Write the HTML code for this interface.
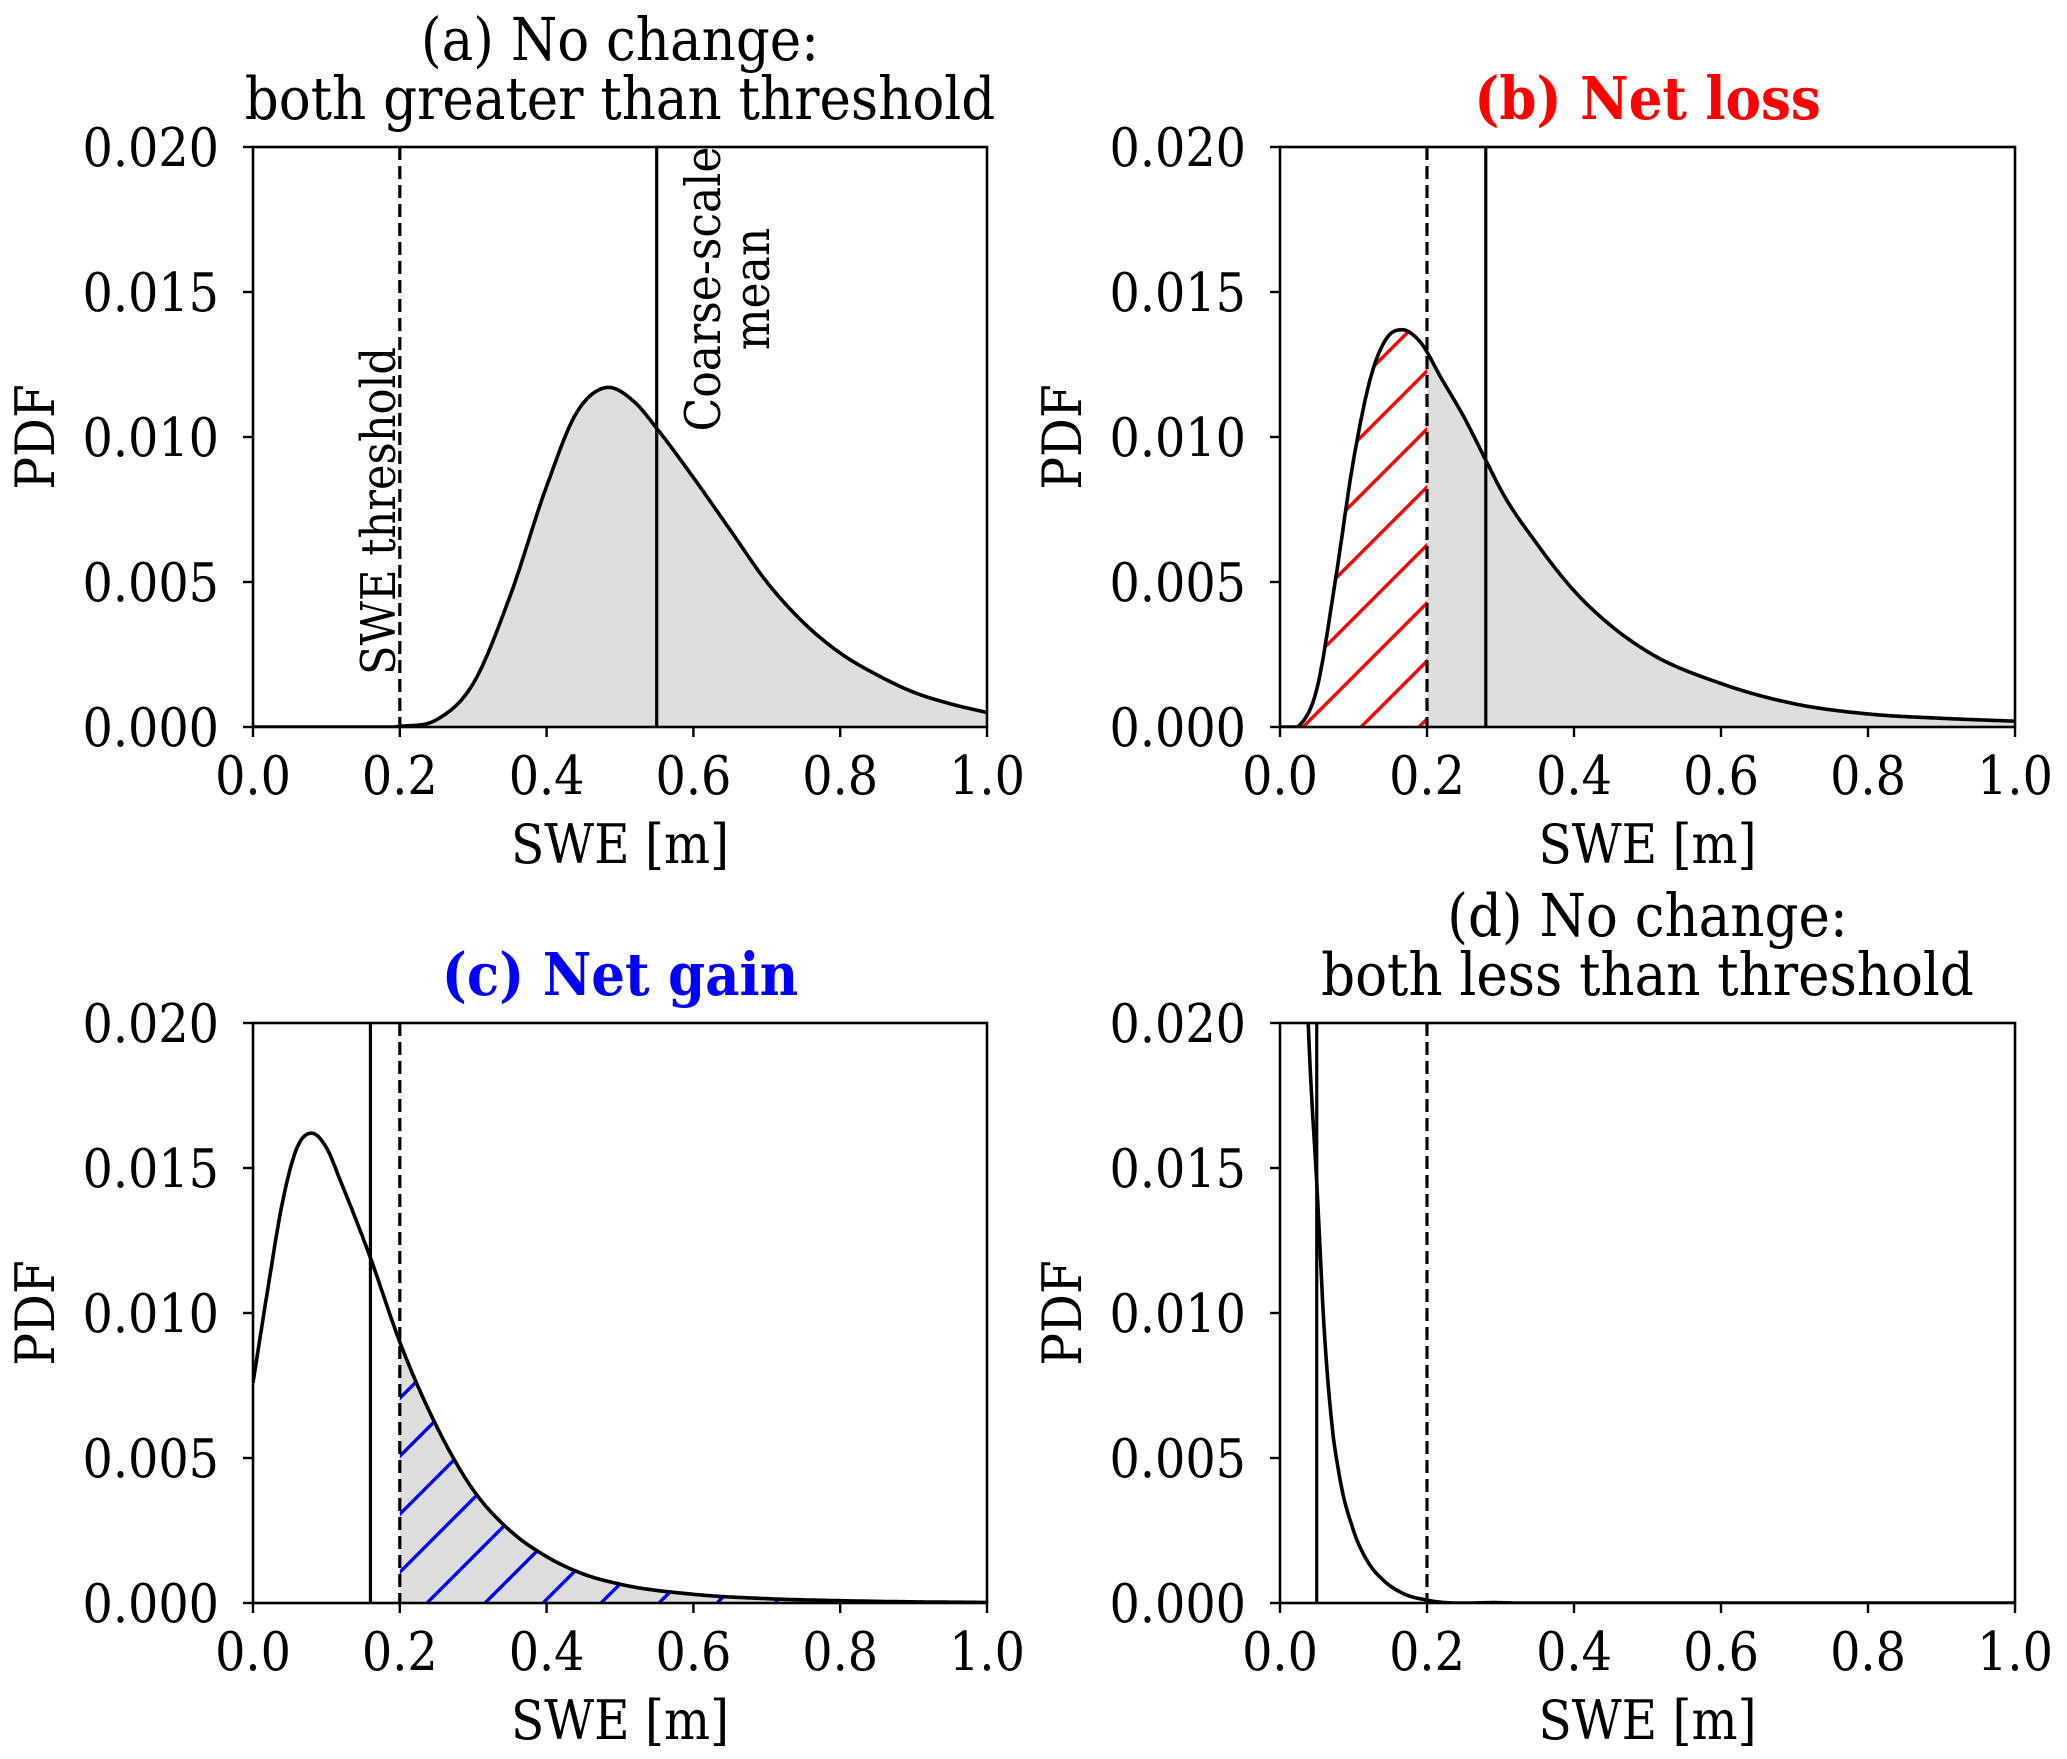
<!DOCTYPE html>
<html><head><meta charset="utf-8"><style>
html,body{margin:0;padding:0;background:#fff;}
svg{display:block;font-family:"DejaVu Serif Condensed","DejaVu Serif","Liberation Serif",serif;}
</style></head><body>
<svg id="fig" width="2067" height="1759" viewBox="0 0 2067 1759" xmlns="http://www.w3.org/2000/svg">
<defs>
<pattern id="hatchRed" patternUnits="userSpaceOnUse" width="58" height="58">
<path d="M-5,63 L63,-5 M-5,5 L5,-5 M53,63 L63,53" stroke="#ff0000" stroke-width="3.4" fill="none"/>
</pattern>
<pattern id="hatchBlue" patternUnits="userSpaceOnUse" width="58" height="58">
<path d="M-5,63 L63,-5 M-5,5 L5,-5 M53,63 L63,53" stroke="#0000ff" stroke-width="3.4" fill="none"/>
</pattern>
</defs>
</svg>
<script>
// ---- data (PDF values in units of 0.001) ----
const xTicks = [0.0, 0.2, 0.4, 0.6, 0.8, 1.0];
const xTickLabels = ["0.0","0.2","0.4","0.6","0.8","1.0"];
const yTicks = [0, 0.005, 0.010, 0.015, 0.020];
const yTickLabels = ["0.000","0.005","0.010","0.015","0.020"];

const aX = [0, 0.1, 0.2, 0.25, 0.3, 0.35, 0.4, 0.44, 0.48, 0.52, 0.55, 0.6, 0.65, 0.7, 0.75, 0.8, 0.85, 0.9, 0.95, 1.0];
const aY = [0, 0, 0.02, 0.25, 1.5, 4.5, 8.3, 10.8, 11.7, 11.2, 10.3, 8.6, 6.8, 5.0, 3.6, 2.55, 1.8, 1.2, 0.8, 0.5];
const bX = [0, 0.025, 0.05, 0.075, 0.1, 0.125, 0.145, 0.165, 0.19, 0.22, 0.25, 0.28, 0.3, 0.35, 0.4, 0.45, 0.5, 0.6, 0.7, 0.8, 0.9, 1.0];
const bY = [0, 0.02, 1.3, 5.0, 9.2, 12.2, 13.4, 13.7, 13.3, 12.0, 10.7, 9.2, 8.2, 6.3, 4.7, 3.5, 2.6, 1.5, 0.8, 0.45, 0.3, 0.2];
const cX = [0, 0.02, 0.04, 0.06, 0.08, 0.1, 0.12, 0.16, 0.2, 0.25, 0.3, 0.35, 0.4, 0.45, 0.5, 0.6, 0.7, 0.8, 0.9, 1.0];
const cY = [7.6, 10.8, 13.8, 15.7, 16.2, 15.7, 14.5, 11.9, 9.0, 6.1, 3.9, 2.5, 1.6, 1.0, 0.65, 0.3, 0.15, 0.08, 0.04, 0.02];
const dX = [0.03, 0.04, 0.05, 0.06, 0.07, 0.08, 0.1, 0.12, 0.14, 0.17, 0.2, 0.3, 0.5, 1.0];
const dY = [26, 19, 14.5, 9.5, 6.3, 4.5, 2.5, 1.4, 0.8, 0.3, 0.1, 0.01, 0, 0];

const thresholds = [0.2, 0.2, 0.2, 0.2];
const coarseMeans = [0.55, 0.28, 0.16, 0.05];

const NS = "http://www.w3.org/2000/svg";
const svg = document.getElementById('fig');
function el(tag, attrs, parent){ const e=document.createElementNS(NS,tag); for(const k in attrs) e.setAttribute(k,attrs[k]); (parent||svg).appendChild(e); return e; }

function smooth(xs, ys){
  const n=xs.length, m=new Array(n);
  m[0]=(ys[1]-ys[0])/(xs[1]-xs[0]); m[n-1]=(ys[n-1]-ys[n-2])/(xs[n-1]-xs[n-2]);
  for(let i=1;i<n-1;i++){
    const d0=(ys[i]-ys[i-1])/(xs[i]-xs[i-1]), d1=(ys[i+1]-ys[i])/(xs[i+1]-xs[i]);
    const h0=xs[i]-xs[i-1], h1=xs[i+1]-xs[i];
    m[i]=(d0*h1+d1*h0)/(h0+h1);
    if(d0===0||d1===0) m[i]=0;
  }
  return function(x){
    let i=0; while(i<n-2 && x>xs[i+1]) i++;
    const h=xs[i+1]-xs[i], t=Math.min(1,Math.max(0,(x-xs[i])/h));
    const t2=t*t,t3=t2*t;
    return (2*t3-3*t2+1)*ys[i]+(t3-2*t2+t)*h*m[i]+(-2*t3+3*t2)*ys[i+1]+(t3-t2)*h*m[i+1];
  };
}

const rowT=[147,1023], rowB=[727,1603], colL=[253,1280], colR=[987,2015];
const FS=53, FL=54, FT=59;

function panel(idx, xs, ys, opts){
  const L=colL[idx%2], R=colR[idx%2], T=rowT[Math.floor(idx/2)], B=rowB[Math.floor(idx/2)];
  const sx=v=>L+(v-0)/(1-0)*(R-L);
  const sy=v=>B-(v/0.020)*(B-T);
  const g=el('g',{});  
  const clipId='clip'+idx;
  const cp=el('clipPath',{id:clipId},g); el('rect',{x:L,y:T,width:R-L,height:B-T},cp);
  const f=smooth(xs,ys);
  const x0=xs[0];
  const pts=[]; for(let k=0;k<=800;k++){ const x=x0+(1-x0)*k/800; pts.push([x,Math.max(0,f(x))/1000]); }
  function area(a,b,fill,name){
    let d='M'+sx(a)+','+sy(0);
    pts.filter(p=>p[0]>=a&&p[0]<=b).forEach(p=>{d+=' L'+sx(p[0]).toFixed(1)+','+sy(p[1]).toFixed(1);});
    d+=' L'+sx(b)+','+sy(Math.max(0,f(b))/1000)+' L'+sx(b)+','+sy(0)+' Z';
    const e=el('path',{d:d,fill:fill,stroke:'none','clip-path':'url(#'+clipId+')'},g);
     
  }
  if(opts.gray) area(opts.gray[0],opts.gray[1],'#dedede','shaded-area');
  if(opts.hatch) area(opts.hatch[0],opts.hatch[1],opts.hatch[2],'hatched-area');
  let d=''; pts.forEach((p,i)=>{d+=(i?' L':'M')+sx(p[0]).toFixed(1)+','+sy(p[1]).toFixed(1);});
  const c=el('path',{d:d,fill:'none',stroke:'#000','stroke-width':3.6,'stroke-linejoin':'round','clip-path':'url(#'+clipId+')'},g);
   
  const th=el('line',{x1:sx(thresholds[idx]),x2:sx(thresholds[idx]),y1:T,y2:B,stroke:'#000','stroke-width':3.2,'stroke-dasharray':'13,6'},g);
   
  const cm=el('line',{x1:sx(coarseMeans[idx]),x2:sx(coarseMeans[idx]),y1:T,y2:B,stroke:'#000','stroke-width':3.2},g);
   
  const fr=el('rect',{x:L,y:T,width:R-L,height:B-T,fill:'none',stroke:'#000','stroke-width':2.6},g);
   
  xTicks.forEach((v,i)=>{
    el('line',{x1:sx(v),x2:sx(v),y1:B,y2:B+10,stroke:'#000','stroke-width':2.4},g);
    const t=el('text',{x:sx(v),y:B+67,'font-size':FS,'text-anchor':'middle'},g); t.textContent=xTickLabels[i];
     
  });
  yTicks.forEach((v,i)=>{
    el('line',{x1:L-10,x2:L,y1:sy(v),y2:sy(v),stroke:'#000','stroke-width':2.4},g);
    const t=el('text',{x:L-34,y:sy(v)+19,'font-size':FS,'text-anchor':'end'},g); t.textContent=yTickLabels[i];
     
  });
  const xl=el('text',{x:(L+R)/2,y:B+136,'font-size':FL,'text-anchor':'middle'},g); xl.textContent='SWE [m]';
   
  const yc=(T+B)/2, yx=L-199;
  const yl=el('text',{x:yx,y:yc,'font-size':FL,'text-anchor':'middle',transform:'rotate(-90 '+yx+' '+yc+')'},g); yl.textContent='PDF';
   
  opts.title.forEach((ln,i)=>{
    const t=el('text',{x:(L+R)/2,y:T-(opts.title.length-1-i)*59-28,'font-size':FT,'text-anchor':'middle',fill:opts.color||'#000','font-weight':opts.bold?'bold':'normal'},g);
    t.textContent=ln;  
  });
  return {sx,sy,g,T,B};
}

const pa=panel(0,aX,aY,{key:'a',gray:[0,1],title:['(a) No change:','both greater than threshold']});
panel(1,bX,bY,{key:'b',gray:[0.2,1],hatch:[0,0.2,'url(#hatchRed)'],title:['(b) Net loss'],color:'#ff0000',bold:true});
panel(2,cX,cY,{key:'c',gray:[0.2,1],hatch:[0.2,1,'url(#hatchBlue)'],title:['(c) Net gain'],color:'#0000ff',bold:true});
panel(3,dX,dY,{key:'d',title:['(d) No change:','both less than threshold']});

(function(){
  const y=675, tx=pa.sx(0.2)-5;
  const t=el('text',{x:tx,y:y,'font-size':48,'text-anchor':'start',transform:'rotate(-90 '+tx+' '+y+')'},pa.g);
  t.textContent='SWE threshold';  
  const cy=289;
  const l1x=720, l2x=769;
  const t1=el('text',{x:l1x,y:cy,'font-size':49,'text-anchor':'middle',transform:'rotate(-90 '+l1x+' '+cy+')'},pa.g);
  t1.textContent='Coarse-scale';  
  const t2=el('text',{x:l2x,y:cy,'font-size':49,'text-anchor':'middle',transform:'rotate(-90 '+l2x+' '+cy+')'},pa.g);
  t2.textContent='mean';  
})();
</script>
</body></html>
